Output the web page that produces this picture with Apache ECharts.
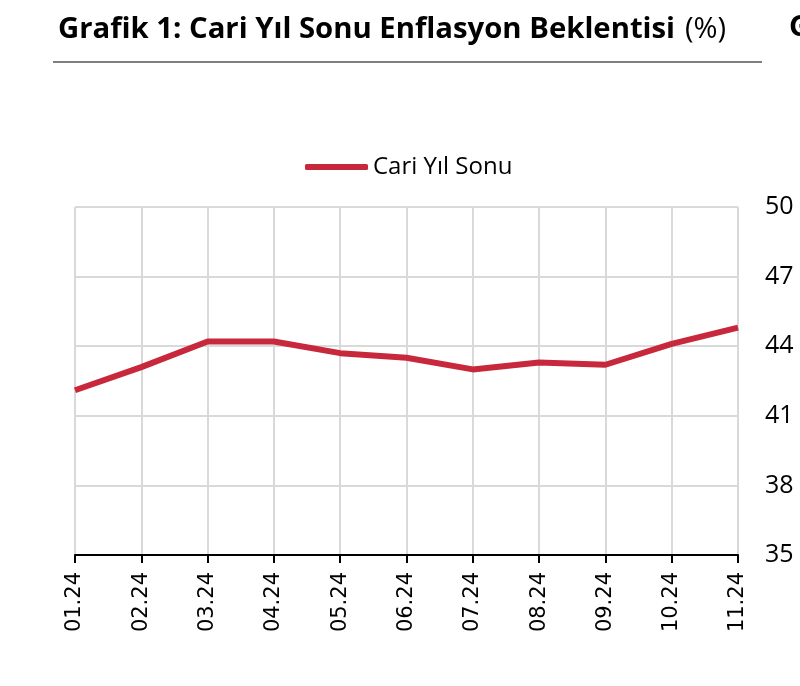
<!DOCTYPE html>
<html>
<head>
<meta charset="utf-8">
<script src="https://cdn.jsdelivr.net/npm/echarts@6/dist/echarts.min.js"></script>
<style>
  html, body { margin: 0; padding: 0; background: #fff; }
  #main { width: 800px; height: 686px; }
</style>
</head>
<body>
<div id="main"></div>
<script>
var months = ['01.24', '02.24', '03.24', '04.24', '05.24', '06.24', '07.24', '08.24', '09.24', '10.24', '11.24'];
var cariYilSonu = [42.1, 43.1, 44.2, 44.2, 43.7, 43.5, 43.0, 43.3, 43.2, 44.1, 44.8];
var yTicks = [35, 38, 41, 44, 47, 50];

var chart = echarts.init(document.getElementById('main'));
chart.setOption({
  animation: false,
  textStyle: { fontFamily: 'Liberation Sans' },
  title: {
    left: 53,
    top: 10,
    text: '{b|Grafik 1: Cari Yıl Sonu Enflasyon Beklentisi}  {n|(%)}',
    textStyle: {
      rich: {
        b: { fontFamily: 'Open Sans', fontWeight: 'bold', fontSize: 29.3, color: '#000' },
        n: { fontFamily: 'Open Sans', fontWeight: 'normal', fontSize: 29, color: '#000' }
      }
    }
  },
  graphic: [
    { type: 'line', shape: { x1: 53, y1: 62, x2: 762, y2: 62 }, style: { stroke: '#7f7f7f', lineWidth: 2 } },
    { type: 'text', left: 789, top: 13, style: { text: 'Grafik 2', font: 'bold 29px "Open Sans"', fill: '#000' } }
  ],
  legend: {
    top: 150,
    left: 300,
    itemWidth: 63,
    itemHeight: 6,
    itemGap: 6,
    icon: 'roundRect',
    textStyle: { fontFamily: 'Open Sans', fontSize: 24, color: '#000' },
    data: ['Cari Yıl Sonu']
  },
  grid: { left: 75, right: 62, top: 207, bottom: 131 },
  xAxis: {
    type: 'category',
    boundaryGap: false,
    data: months,
    axisLine: { lineStyle: { color: '#000', width: 2 } },
    axisTick: { length: 8, lineStyle: { color: '#000', width: 2 } },
    axisLabel: { rotate: 90, fontFamily: 'DejaVu Sans', fontSize: 21, color: '#000', margin: 17 },
    splitLine: { show: true, lineStyle: { color: '#d9d9d9', width: 2 } }
  },
  yAxis: {
    type: 'value',
    position: 'right',
    min: yTicks[0],
    max: yTicks[yTicks.length - 1],
    interval: 3,
    axisLine: { show: false },
    axisTick: { show: false },
    axisLabel: { fontFamily: 'Open Sans', fontSize: 25, color: '#000', margin: 27 },
    splitLine: { lineStyle: { color: '#d9d9d9', width: 2 } }
  },
  series: [{
    name: 'Cari Yıl Sonu',
    type: 'line',
    data: cariYilSonu,
    symbol: 'none',
    lineStyle: { color: '#c8283c', width: 6 },
    itemStyle: { color: '#c8283c' }
  }]
});
</script>
</body>
</html>
